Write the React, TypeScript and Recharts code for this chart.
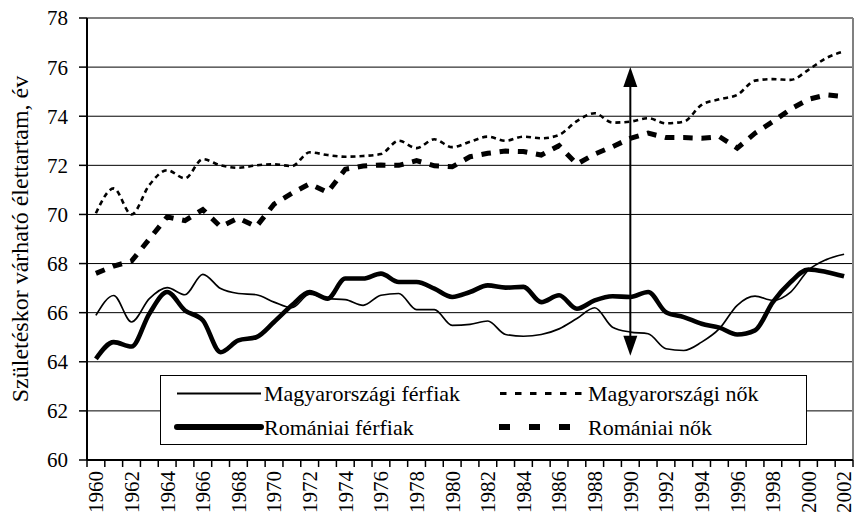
import { LineChart, Line, XAxis, YAxis, CartesianGrid, ReferenceLine, Legend, Label } from "recharts";

const years = [
  1960, 1961, 1962, 1963, 1964, 1965, 1966, 1967, 1968, 1969,
  1970, 1971, 1972, 1973, 1974, 1975, 1976, 1977, 1978, 1979,
  1980, 1981, 1982, 1983, 1984, 1985, 1986, 1987, 1988, 1989,
  1990, 1991, 1992, 1993, 1994, 1995, 1996, 1997, 1998, 1999,
  2000, 2001, 2002,
];

// Magyarországi férfiak
const huMen = [
  65.89, 66.7, 65.62, 66.57, 67.02, 66.73, 67.56, 66.98, 66.78, 66.73,
  66.43, 66.2, 66.75, 66.57, 66.53, 66.3, 66.71, 66.78, 66.12, 66.12,
  65.48, 65.52, 65.66, 65.11, 65.04, 65.11, 65.34, 65.76, 66.2, 65.41,
  65.21, 65.14, 64.53, 64.46, 64.8, 65.35, 66.3, 66.67, 66.5, 66.84,
  67.73, 68.16, 68.38,
];

// Magyarországi nők
const huWomen = [
  70.05, 71.06, 70.0, 71.2, 71.8, 71.47, 72.25, 72.0, 71.9, 72.0,
  72.04, 71.97, 72.53, 72.42, 72.35, 72.38, 72.46, 73.0, 72.7, 73.06,
  72.74, 72.96, 73.17, 73.0, 73.17, 73.1, 73.24, 73.8, 74.12, 73.74,
  73.78, 73.92, 73.71, 73.78, 74.46, 74.69, 74.87, 75.45, 75.51, 75.48,
  75.89, 76.37, 76.64,
];

// Romániai férfiak
const roMen = [
  64.12, 64.8, 64.62, 65.96, 66.84, 66.09, 65.69, 64.39, 64.87, 65.0,
  65.62, 66.3, 66.84, 66.57, 67.39, 67.39, 67.59, 67.25, 67.25, 66.98,
  66.64, 66.84, 67.11, 67.02, 67.05, 66.43, 66.71, 66.16, 66.5, 66.67,
  66.64, 66.84, 66.02, 65.82, 65.55, 65.39, 65.11, 65.28, 66.43, 67.25,
  67.76, 67.66, 67.48,
];

// Romániai nők
const roWomen = [
  67.6, 67.9, 68.1, 69.0, 69.9, 69.75, 70.2, 69.5, 69.85, 69.5,
  70.42, 70.86, 71.25, 70.9, 71.84, 71.97, 72.01, 72.0, 72.19, 71.98,
  71.94, 72.35, 72.49, 72.58, 72.56, 72.42, 72.8, 72.05, 72.46, 72.76,
  73.1, 73.31, 73.13, 73.13, 73.1, 73.17, 72.7, 73.31, 73.78, 74.29,
  74.69, 74.87, 74.8,
];

const yearLabels = [
  1960, 1962, 1964, 1966, 1968, 1970, 1972, 1974, 1976, 1978, 1980,
  1982, 1984, 1986, 1988, 1990, 1992, 1994, 1996, 1998, 2000, 2002,
];
const yTicks = [60, 62, 64, 66, 68, 70, 72, 74, 76, 78];

const yTitle = "Születéskor várható élettartam, év";
const arrowYear = 1990;
const arrowFrom = 64.25;
const arrowTo = 76;

const FONT = "'Liberation Serif', 'Times New Roman', serif";

const data = years.map((year, i) => ({
  year,
  huMen: huMen[i],
  huWomen: huWomen[i],
  roMen: roMen[i],
  roWomen: roWomen[i],
}));

// tick marks sit between the categories (like the original), labels on every second year
const boundaries = years.map(y => y - 0.5).concat([years[years.length - 1] + 0.5]);
const xTicks = [...boundaries, ...yearLabels].sort((a, b) => a - b);

function YearTick(props: any) {
  const { x, y, payload } = props;
  const v = payload.value;
  if (!Number.isInteger(v)) {
    return <line x1={x} x2={x} y1={y} y2={y + 7} stroke="#000" strokeWidth={1.5} />;
  }
  const ty = y + 11;
  return (
    <text
      x={x}
      y={ty}
      dy="0.35em"
      transform={`rotate(-90 ${x} ${ty})`}
      textAnchor="end"
      fontFamily={FONT}
      fontSize={21}
      fill="#000"
    >
      {v}
    </text>
  );
}

function DoubleArrow(props: any) {
  const { x1, y1, x2, y2 } = props;
  const top = Math.min(y1, y2);
  const bottom = Math.max(y1, y2);
  const x = x1;
  return (
    <g>
      <line x1={x} x2={x2} y1={top + 18} y2={bottom - 18} stroke="#000" strokeWidth={2} />
      <polygon points={`${x},${top} ${x - 7},${top + 20} ${x + 7},${top + 20}`} fill="#000" />
      <polygon points={`${x},${bottom} ${x - 7},${bottom - 20} ${x + 7},${bottom - 20}`} fill="#000" />
    </g>
  );
}

const legendItems = [
  { key: "huMen", name: "Magyarországi férfiak" },
  { key: "huWomen", name: "Magyarországi nők" },
  { key: "roMen", name: "Romániai férfiak" },
  { key: "roWomen", name: "Romániai nők" },
];

function LegendBox() {
  const sample = (key: string, x1: number, x2: number, y: number) => {
    if (key === "huMen") return <line x1={x1} x2={x2} y1={y} y2={y} stroke="#000" strokeWidth={2} />;
    if (key === "roMen")
      return <line x1={x1} x2={x2} y1={y} y2={y} stroke="#000" strokeWidth={6} strokeLinecap="round" />;
    if (key === "huWomen")
      return <line x1={x1} x2={x2} y1={y} y2={y} stroke="#000" strokeWidth={3} strokeDasharray="6.5 8.5" />;
    return <line x1={x1 - 1} x2={x2 - 12} y1={y} y2={y} stroke="#000" strokeWidth={6} strokeDasharray="11 19" />;
  };
  return (
    <svg width={647} height={70} style={{ display: "block" }}>
      <rect x={0.5} y={0.5} width={646} height={69} fill="#fff" stroke="#000" strokeWidth={1} />
      {legendItems.map((item, i) => {
        const col = i % 2;
        const row = Math.floor(i / 2);
        const y = row === 0 ? 18.5 : 52;
        const sx = col === 0 ? 17 : 340;
        return (
          <g key={item.key}>
            {sample(item.key, sx, sx + 84, y)}
            <text
              x={sx + 87 + (col === 1 ? 1 : 0)}
              y={y}
              dy="0.35em"
              fontFamily={FONT}
              fontSize={22}
              fill="#000"
            >
              {item.name}
            </text>
          </g>
        );
      })}
    </svg>
  );
}

function YTitle(props: any) {
  const { viewBox } = props;
  const cx = 20;
  const cy = viewBox.y + viewBox.height / 2;
  return (
    <text
      x={cx}
      y={cy}
      dy="0.35em"
      transform={`rotate(-90 ${cx} ${cy})`}
      textAnchor="middle"
      fontFamily={FONT}
      fontSize={24}
      fill="#000"
    >
      {yTitle}
    </text>
  );
}

export default function App() {
  return (
    <div style={{ position: "absolute", left: 0, top: 0, width: 855, height: 526, background: "#fff" }}>
      <LineChart width={855} height={526} data={data} margin={{ top: 18, right: 2, left: 0, bottom: 0 }}>
        <CartesianGrid vertical={false} stroke="#000" strokeWidth={1} />
        <XAxis
          dataKey="year"
          type="number"
          domain={[1959.5, 2002.5]}
          ticks={xTicks}
          interval={0}
          height={66}
          tickSize={0}
          tickMargin={0}
          tickLine={false}
          tick={<YearTick />}
          axisLine={{ stroke: "#000", strokeWidth: 2 }}
        />
        <YAxis
          width={87}
          domain={[60, 78]}
          ticks={yTicks}
          interval={0}
          tickSize={8}
          tickMargin={11}
          tickLine={{ stroke: "#000", strokeWidth: 1.5 }}
          axisLine={{ stroke: "#000", strokeWidth: 2 }}
          tick={{ fill: "#000", fontSize: 21, fontFamily: FONT }}
        >
          <Label content={<YTitle />} />
        </YAxis>
        <ReferenceLine y={78} stroke="#808080" strokeWidth={2} />
        <ReferenceLine x={2002.5} stroke="#808080" strokeWidth={2} />

        <Line type="monotone" dataKey="huWomen" stroke="#000" strokeWidth={2.6} strokeDasharray="5 4" dot={false} isAnimationActive={false} />
        <Line type="linear" dataKey="roWomen" stroke="#000" strokeWidth={5} strokeDasharray="9.5 8.8" dot={false} isAnimationActive={false} />
        <Line type="monotone" dataKey="huMen" stroke="#000" strokeWidth={1.7} dot={false} isAnimationActive={false} />
        <Line type="monotone" dataKey="roMen" stroke="#000" strokeWidth={4.6} dot={false} isAnimationActive={false} />

        <ReferenceLine
          segment={[{ x: arrowYear, y: arrowFrom }, { x: arrowYear, y: arrowTo }]}
          shape={<DoubleArrow />}
        />

        <Legend
          layout="horizontal"
          verticalAlign="middle"
          align="center"
          content={<LegendBox />}
          wrapperStyle={{ left: 160, top: 375, width: 647, height: 70 }}
        />
      </LineChart>
    </div>
  );
}
